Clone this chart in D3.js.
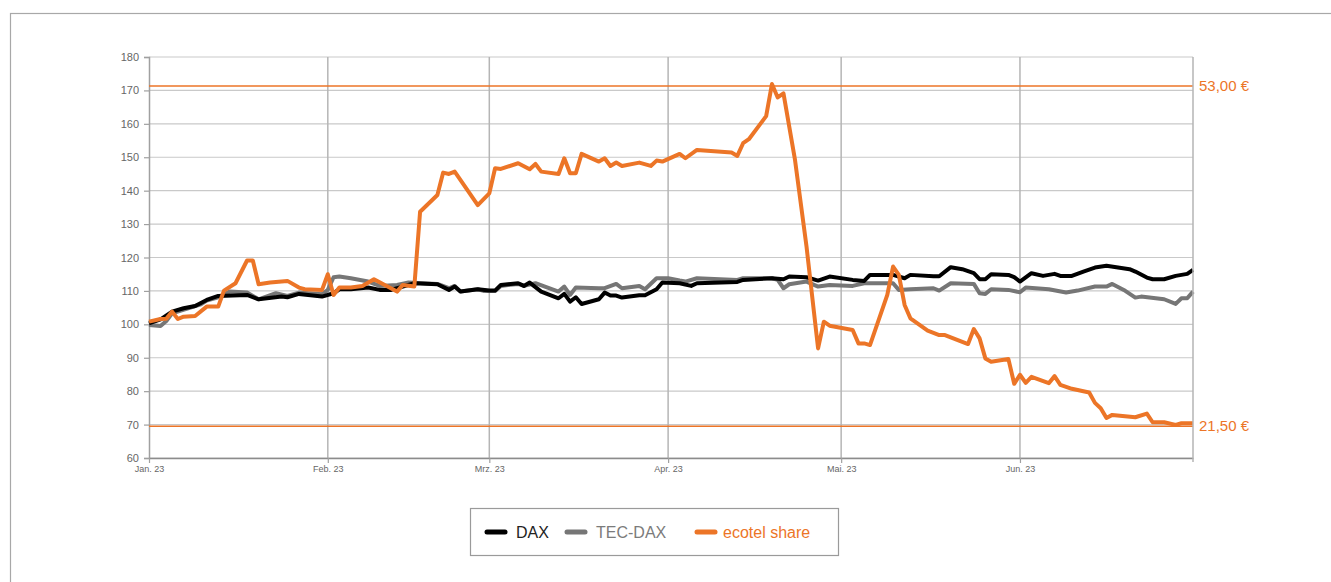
<!DOCTYPE html>
<html>
<head>
<meta charset="utf-8">
<script src="https://cdn.jsdelivr.net/npm/d3@7"></script>
<style>
  body { margin: 0; background: #fff; }
  svg { font-family: "Liberation Sans", Arial, sans-serif; }
</style>
</head>
<body>
<div id="chart"></div>
<script>
// chart values (days counted from 1 Jan 2023, index = 100 at start)
let monthLabels = ["Jan. 23", "Feb. 23", "Mrz. 23", "Apr. 23", "Mai. 23", "Jun. 23"];
let yTicks = [60, 70, 80, 90, 100, 110, 120, 130, 140, 150, 160, 170, 180];

let daxDays = [0,2,4,6,8,10,12,17,19,23,24,26,30,32,33,35,38,40,42,46,50,52,53,54,57,59,60,61,64,65,66,68,71,72,73,74,75,78,79,80,81,82,85,86,88,89,92,94,95,102,103,108,110,111,114,116,118,122,124,125,129,131,132,136,137,139,141,143,144,145,146,149,150,151,153,155,157,158,160,162,164,166,170,171,173,174,176,178,180,181];
let daxValues = [100.3,101.5,103.8,104.8,105.5,107.3,108.5,108.8,107.5,108.3,108.1,109.1,108.3,109.3,110.5,110.5,111,110.3,110.3,112.3,112,110.3,111.3,109.8,110.5,110.1,110.1,111.8,112.3,111.5,112.5,109.8,107.8,109.1,106.8,108.1,106.1,107.5,109.5,108.6,108.6,108,108.7,108.7,110.5,112.5,112.3,111.5,112.3,112.7,113.3,113.8,113.5,114.3,114.1,113.1,114.3,113.3,113,114.8,114.8,113.8,114.8,114.4,114.4,117.1,116.5,115.3,113.5,113.5,115,114.8,114.1,112.8,115.3,114.5,115.1,114.5,114.5,115.8,117,117.5,116.5,115.8,114,113.5,113.5,114.5,115.1,116.3];

let tecDays = [0,2,3,4,9,10,12,14,17,19,22,24,26,30,31,32,33,35,38,40,43,45,50,52,53,54,57,58,60,61,64,65,67,71,72,73,74,78,79,81,82,85,86,88,90,92,93,95,102,103,108,109,110,111,114,116,118,122,124,129,130,132,136,137,139,143,144,145,146,149,151,152,156,159,161,164,166,167,169,171,172,176,178,179,180,181];
let tecValues = [99.8,99.5,101,103.3,106,107.1,108.1,109.8,109.5,107.5,109.3,108.5,109.5,109,110.3,114.1,114.3,113.8,112.8,111.5,111.8,112.5,112.1,110.8,111.5,109.8,110.5,110,110,111.5,112.1,111.5,112.3,109.8,111.3,108.8,111,110.8,110.8,112.1,110.8,111.5,110.5,113.8,113.8,113.1,112.8,113.8,113.3,113.8,113.8,113.3,110.8,112,112.8,111.3,111.8,111.5,112.3,112.3,110.3,110.5,110.8,110.1,112.3,112.1,109.3,109.1,110.5,110.3,109.6,111,110.5,109.5,110.1,111.3,111.3,112.1,110.3,108,108.3,107.5,106.1,107.8,107.8,109.8];

let ecoDays = [0,2,3,4,5,6,8,10,12,13,15,17,18,19,21,24,26,27,30,31,32,33,35,37,39,43,44,46,47,50,51,52,53,57,59,60,61,64,66,67,68,71,72,73,74,75,78,79,80,81,82,85,87,88,89,92,93,95,101,102,103,104,107,108,109,110,112,114,116,117,118,122,123,124,125,128,129,130,131,132,135,137,138,139,142,143,144,145,146,149,150,151,152,153,156,157,158,160,163,164,165,166,167,171,173,174,176,178,179,181];
let ecoValues = [100.8,101.6,101.7,103.8,101.6,102.3,102.5,105.3,105.3,110.1,112.3,119.1,119.1,112,112.5,113,111,110.5,110.3,115,108.8,111,111,111.5,113.5,109.8,111.8,111.3,133.7,138.7,145.4,145,145.7,135.7,139.2,146.7,146.5,148.2,146.4,148,145.7,145,149.7,145.2,145.2,151,148.7,149.7,147.4,148.4,147.4,148.4,147.4,149,148.7,151,149.7,152.2,151.4,150.4,154.2,155.4,162.3,171.9,167.9,169.1,149.2,123.2,92.8,100.8,99.6,98.3,94.3,94.3,93.8,108.8,117.3,114.8,105.8,101.8,98.1,96.8,96.8,96.1,94.1,98.6,95.8,89.8,88.8,89.6,82.2,84.9,82.5,84.3,82.4,84.5,81.9,80.7,79.6,76.5,74.9,72,72.9,72.2,73.3,70.7,70.7,69.9,70.4,70.4];

// share price high / low marks (53,00 € and 21,50 € indexed to start)
let priceLevels = [171.3, 69.5];
let priceLabels = ["53,00 €", "21,50 €"];

let legendNames = ["DAX", "TEC-DAX", "ecotel share"];
let colors = ["#000000", "#767676", "#ec7527"];
let textColors = ["#222222", "#7b7b7b", "#ec7527"];

let width = 1331;
let height = 582;
let plotLeft = 149, plotRight = 1193, plotTop = 57, plotBottom = 458;

let svg = d3.select("#chart").append("svg")
  .attr("width", width)
  .attr("height", height);

// outer frame
svg.append("rect")
  .attr("x", 10.5).attr("y", 13.5)
  .attr("width", 1400).attr("height", 700)
  .attr("fill", "none").attr("stroke", "#a8a8a8").attr("stroke-width", 1.2);

let start = new Date(2023, 0, 1);
let x = d3.scaleTime()
  .domain([start, new Date(2023, 6, 1)])
  .range([plotLeft, plotRight]);
let y = d3.scaleLinear().domain([60, 180]).range([plotBottom, plotTop]);

let toDate = d => d3.timeDay.offset(start, d);
let monthStarts = d3.range(6).map(m => new Date(2023, m, 1));

// horizontal grid
svg.append("g")
  .selectAll("line")
  .data(yTicks)
  .join("line")
  .attr("x1", plotLeft).attr("x2", plotRight)
  .attr("y1", d => y(d)).attr("y2", d => y(d))
  .attr("stroke", "#c9c9c9").attr("stroke-width", 1.2);

// vertical month grid
svg.append("g")
  .selectAll("line")
  .data(monthStarts.slice(1))
  .join("line")
  .attr("x1", d => x(d)).attr("x2", d => x(d))
  .attr("y1", plotTop).attr("y2", plotBottom)
  .attr("stroke", "#b5b5b5").attr("stroke-width", 1.5);

// y axis
let yAxis = svg.append("g")
  .attr("transform", "translate(" + plotLeft + ",0)")
  .call(d3.axisLeft(y).tickValues(yTicks).tickSize(5).tickPadding(5));
yAxis.select(".domain").attr("stroke", "#a0a0a0").attr("stroke-width", 1.5);
yAxis.selectAll(".tick line").attr("stroke", "#a0a0a0").attr("stroke-width", 1.2);
yAxis.selectAll("text").attr("fill", "#666").style("font-size", "11px")
  .style("font-family", "Liberation Sans, Arial, sans-serif");

// x axis
let xAxis = svg.append("g")
  .attr("transform", "translate(0," + plotBottom + ")")
  .call(d3.axisBottom(x).tickValues(monthStarts)
    .tickFormat((d, i) => monthLabels[i]).tickSize(5).tickSizeOuter(0).tickPadding(3));
xAxis.select(".domain").attr("stroke", "#8c8c8c").attr("stroke-width", 1.5);
xAxis.selectAll(".tick line").attr("stroke", "#a0a0a0").attr("stroke-width", 1.2);
xAxis.selectAll("text").attr("fill", "#666").style("font-size", "9px")
  .style("font-family", "Liberation Sans, Arial, sans-serif");

// price level lines
svg.append("g")
  .selectAll("line")
  .data(priceLevels)
  .join("line")
  .attr("x1", plotLeft).attr("x2", plotRight)
  .attr("y1", d => y(d)).attr("y2", d => y(d))
  .attr("stroke", colors[2]).attr("stroke-width", 1.5);

svg.append("g")
  .selectAll("text")
  .data(priceLevels)
  .join("text")
  .attr("x", plotRight + 6)
  .attr("y", d => y(d) + 5)
  .attr("fill", colors[2])
  .style("font-size", "15px")
  .text((d, i) => priceLabels[i]);

// series
let line = d3.line()
  .x(d => x(toDate(d[0])))
  .y(d => y(d[1]));

let series = [
  d3.zip(tecDays, tecValues),
  d3.zip(daxDays, daxValues),
  d3.zip(ecoDays, ecoValues)
];
let order = [1, 0, 2];

svg.append("g")
  .selectAll("path")
  .data(series)
  .join("path")
  .attr("d", line)
  .attr("fill", "none")
  .attr("stroke", (d, i) => colors[order[i]])
  .attr("stroke-width", 4)
  .attr("stroke-linejoin", "round");

// right border of plot
svg.append("line")
  .attr("x1", plotRight).attr("x2", plotRight)
  .attr("y1", plotTop).attr("y2", plotBottom + 4)
  .attr("stroke", "#b5b5b5").attr("stroke-width", 1.5);

// legend
let legend = svg.append("g").attr("transform", "translate(470,508)");
legend.append("rect")
  .attr("x", 0.5).attr("y", 0.5).attr("width", 368).attr("height", 47)
  .attr("fill", "#fff").attr("stroke", "#9a9a9a").attr("stroke-width", 1.2);

let legendX = [15, 95, 225];
let item = legend.selectAll(".item")
  .data(legendNames)
  .join("g")
  .attr("class", "item")
  .attr("transform", (d, i) => "translate(" + legendX[i] + ",24)");
item.append("line")
  .attr("x1", 2).attr("x2", 20)
  .attr("stroke", (d, i) => colors[i])
  .attr("stroke-width", 5).attr("stroke-linecap", "round");
item.append("text")
  .attr("x", (d, i) => i == 2 ? 28 : 31)
  .attr("y", 6)
  .attr("fill", (d, i) => textColors[i])
  .style("font-size", "16px")
  .text(d => d);
</script>
</body>
</html>
